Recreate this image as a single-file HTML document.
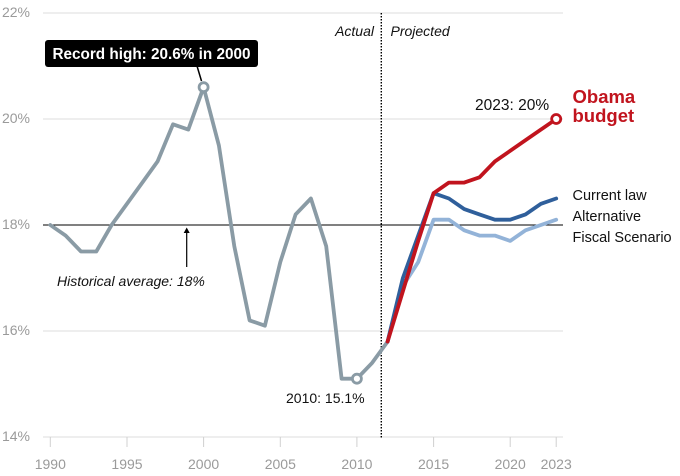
<!DOCTYPE html>
<html><head><meta charset="utf-8"><style>
html,body{margin:0;padding:0;background:#fff;}
svg{display:block;font-family:"Liberation Sans",sans-serif;}
</style></head><body>
<svg width="680" height="476" viewBox="0 0 680 476" xmlns="http://www.w3.org/2000/svg">
<rect width="680" height="476" fill="#fff"/>
<!-- gridlines -->
<g stroke="#dcdcdc" stroke-width="1">
<line x1="43" y1="13" x2="563" y2="13"/>
<line x1="43" y1="119" x2="563" y2="119"/>
<line x1="43" y1="331" x2="563" y2="331"/>
<line x1="43" y1="437" x2="563" y2="437"/>
</g>
<g stroke="#d0d0d0" stroke-width="1">
<line x1="50.3" y1="437" x2="50.3" y2="447"/>
<line x1="127" y1="437" x2="127" y2="447"/>
<line x1="203.6" y1="437" x2="203.6" y2="447"/>
<line x1="280.3" y1="437" x2="280.3" y2="447"/>
<line x1="356.9" y1="437" x2="356.9" y2="447"/>
<line x1="433.6" y1="437" x2="433.6" y2="447"/>
<line x1="510.2" y1="437" x2="510.2" y2="447"/>
<line x1="556.2" y1="437" x2="556.2" y2="447"/>
</g>
<line x1="43" y1="225" x2="563" y2="225" stroke="#000" stroke-width="1"/>
<!-- y labels -->
<g fill="#9a9a9a" font-size="14" text-anchor="end">
<text x="30" y="17">22%</text>
<text x="30" y="123">20%</text>
<text x="30" y="229">18%</text>
<text x="30" y="335">16%</text>
<text x="30" y="441">14%</text>
</g>
<!-- x labels -->
<g fill="#9a9a9a" font-size="14" text-anchor="middle">
<text x="50.3" y="469">1990</text>
<text x="127" y="469">1995</text>
<text x="203.6" y="469">2000</text>
<text x="280.3" y="469">2005</text>
<text x="356.9" y="469">2010</text>
<text x="433.6" y="469">2015</text>
<text x="510.2" y="469">2020</text>
<text x="556.2" y="469">2023</text>
</g>
<!-- dotted divider -->
<line x1="381.3" y1="13" x2="381.3" y2="438" stroke="#000" stroke-width="1.4" stroke-dasharray="1.5 1.5"/>
<text x="374" y="36" font-size="14" font-style="italic" text-anchor="end" fill="#111">Actual</text>
<text x="390.5" y="36" font-size="14" font-style="italic" fill="#111">Projected</text>
<!-- historical average arrow -->
<line x1="186.7" y1="267" x2="186.7" y2="231" stroke="#000" stroke-width="1.2"/>
<path d="M183.7,233 L186.7,227.5 L189.7,233 Z" fill="#000"/>
<text x="57" y="286" font-size="14" font-style="italic" fill="#111">Historical average: 18%</text>
<!-- series -->
<g fill="none" stroke-width="3.8" stroke-linejoin="round" stroke-linecap="round">
<polyline stroke="#8a9ba5" points="50.3,225 65.6,235.6 81,251.5 96.3,251.5 111.6,225 127,203.8 142.3,182.6 157.6,161.4 173,124.3 188.3,129.6 203.6,87.2 218.9,145.5 234.3,246.2 249.6,320.4 264.9,325.7 280.3,262.1 295.6,214.4 310.9,198.5 326.2,246.2 341.6,378.7 356.9,378.7 372.2,362.8 387.6,341.6"/>
<polyline stroke="#93b3d8" points="387.6,341.6 402.9,286 418.2,262.1 433.6,219.7 448.9,219.7 464.2,230.3 479.5,235.6 494.9,235.6 510.2,240.9 525.5,230.3 540.9,225 556.2,219.7"/>
<polyline stroke="#2f5f9b" points="387.6,341.6 402.9,278 418.2,235.6 433.6,193.2 448.9,198.5 464.2,209.1 479.5,214.4 494.9,219.7 510.2,219.7 525.5,214.4 540.9,203.8 556.2,198.5"/>
<polyline stroke="#c1141e" points="387.6,341.6 402.9,291.2 418.2,240.9 433.6,193.2 448.9,182.6 464.2,182.6 479.5,177.3 494.9,161.4 510.2,150.8 525.5,140.2 540.9,129.6 556.2,119"/>
</g>
<!-- markers -->
<circle cx="203.6" cy="87.2" r="4.5" fill="#fff" stroke="#8a9ba5" stroke-width="2.8"/>
<circle cx="356.9" cy="378.7" r="4.5" fill="#fff" stroke="#8a9ba5" stroke-width="2.8"/>
<circle cx="556.2" cy="119" r="4.5" fill="#fff" stroke="#c1141e" stroke-width="2.8"/>
<!-- callout -->
<line x1="197" y1="66" x2="201.5" y2="81" stroke="#000" stroke-width="1.5"/>
<rect x="45" y="40" width="213" height="27" rx="3" fill="#000"/>
<text x="151.5" y="59" font-size="15.3" font-weight="bold" fill="#fff" text-anchor="middle">Record high: 20.6% in 2000</text>
<text x="286" y="403" font-size="14" fill="#111">2010: 15.1%</text>
<text x="475" y="110" font-size="15.5" fill="#111">2023: 20%</text>
<!-- legend labels -->
<text x="572.5" y="103" font-size="18.5" font-weight="bold" fill="#c1141e">Obama</text>
<text x="572.5" y="122" font-size="18.5" font-weight="bold" fill="#c1141e">budget</text>
<text x="572.5" y="200" font-size="14.5" fill="#111">Current law</text>
<text x="572.5" y="221" font-size="14.5" fill="#111">Alternative</text>
<text x="572.5" y="242" font-size="14.5" fill="#111">Fiscal Scenario</text>
</svg>
</body></html>
